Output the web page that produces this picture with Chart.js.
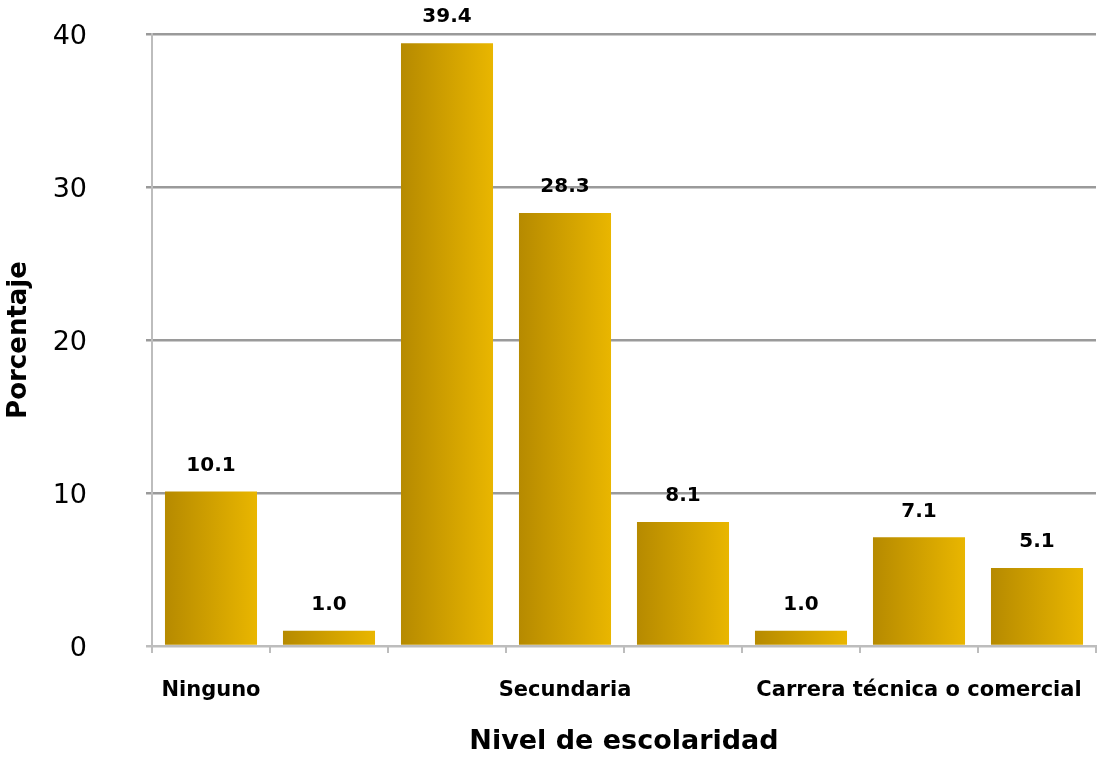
<!DOCTYPE html>
<html lang="es">
<head>
    <meta charset="UTF-8">
    <title>Nivel de escolaridad</title>
    <script src="https://cdn.jsdelivr.net/npm/chart.js"></script>
    <style>
        html, body { margin: 0; padding: 0; background: #fff; }
        #wrap { width: 1098px; height: 759px; position: relative; }
    </style>
</head>
<body>
    <div id="wrap"><canvas id="chart"></canvas></div>
    <script>
        // Data (only three category labels are printed there)
        const categories = ['Ninguno', '', '', 'Secundaria', '', '', 'Carrera técnica o comercial', ''];
        const percentages = [10.1, 1.0, 39.4, 28.3, 8.1, 1.0, 7.1, 5.1];
        const yTicks = [0, 10, 20, 30, 40];

        const FONT = "'DejaVu Sans', Verdana, sans-serif";
        const BAR_PCT = 0.78;

        // gradient across each bar, dark gold on the left to bright gold on the right
        function barGradient(ctx) {
            const chart = ctx.chart;
            const x = chart.scales.x;
            if (!chart.chartArea || !x) return '#d4a300';
            const cx = x.getPixelForValue(ctx.dataIndex);
            const w = (chart.chartArea.right - chart.chartArea.left) / categories.length * BAR_PCT;
            const g = chart.ctx.createLinearGradient(cx - w / 2, 0, cx + w / 2, 0);
            g.addColorStop(0, '#b68a00');
            g.addColorStop(1, '#e9b600');
            return g;
        }

        // value labels above bars
        const valueLabels = {
            id: 'valueLabels',
            afterDatasetsDraw(chart) {
                const c = chart.ctx;
                const meta = chart.getDatasetMeta(0);
                c.save();
                c.font = 'bold 20px ' + FONT;
                c.fillStyle = '#000';
                c.textAlign = 'center';
                c.textBaseline = 'middle';
                meta.data.forEach((bar, i) => {
                    c.fillText(percentages[i].toFixed(1), bar.x, bar.y - 26);
                });
                c.restore();
            }
        };

        new Chart(document.getElementById('chart'), {
            type: 'bar',
            data: {
                labels: categories,
                datasets: [{
                    data: percentages,
                    backgroundColor: barGradient,
                    borderWidth: 0,
                    categoryPercentage: BAR_PCT,
                    barPercentage: 1
                }]
            },
            options: {
                responsive: true,
                maintainAspectRatio: false,
                animation: false,
                layout: { padding: { top: 34, right: 2, left: 2, bottom: 0 } },
                plugins: {
                    legend: { display: false },
                    tooltip: { enabled: false }
                },
                scales: {
                    x: {
                        afterFit(scale) {
                            scale.height = 113;
                            scale.paddingLeft = 0;
                            scale.paddingRight = 0;
                        },
                        grid: {
                            offset: true,
                            drawOnChartArea: false,
                            drawTicks: true,
                            tickLength: 7,
                            color: '#bdbdbd',
                            lineWidth: 2
                        },
                        border: { color: '#bdbdbd', width: 2 },
                        ticks: {
                            autoSkip: false,
                            maxRotation: 0,
                            padding: 25,
                            color: '#000',
                            font: { family: FONT, size: 21, weight: 'bold' }
                        },
                        title: {
                            display: true,
                            text: 'Nivel de escolaridad',
                            color: '#000',
                            font: { family: FONT, size: 27, weight: 'bold' },
                            padding: { top: 0, bottom: 1 }
                        }
                    },
                    y: {
                        min: 0,
                        max: 40,
                        afterBuildTicks(axis) {
                            axis.ticks = yTicks.map(v => ({ value: v }));
                        },
                        afterFit(scale) {
                            scale.width = 150;
                            scale.paddingTop = 0;
                            scale.paddingBottom = 0;
                        },
                        grid: {
                            color: ctx => ctx.tick && ctx.tick.value === 0 ? '#bdbdbd' : '#9a9a9a',
                            lineWidth: 2.5,
                            drawTicks: true,
                            tickLength: 6
                        },
                        border: { color: '#bdbdbd', width: 2 },
                        ticks: {
                            padding: 59,
                            labelOffset: 3,
                            color: '#000',
                            font: { family: FONT, size: 27 }
                        },
                        title: {
                            display: true,
                            text: 'Porcentaje',
                            color: '#000',
                            font: { family: FONT, size: 26, weight: 'bold' },
                            padding: { top: 2, bottom: 0 }
                        }
                    }
                }
            },
            plugins: [valueLabels]
        });
    </script>
</body>
</html>
